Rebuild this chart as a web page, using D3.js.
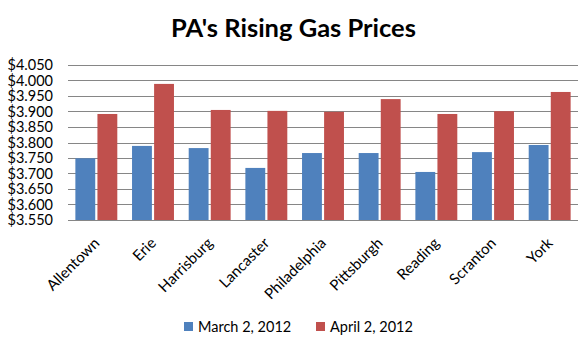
<!DOCTYPE html>
<html>
<head>
<meta charset="utf-8">
<script src="https://cdn.jsdelivr.net/npm/d3@7"></script>
<style>
  body { margin: 0; background: #fff; }
  svg { font-family: Lato, "Open Sans", sans-serif; }
</style>
</head>
<body>
<div id="chart-area"></div>
<script>
const cities = ["Allentown", "Erie", "Harrisburg", "Lancaster", "Philadelphia", "Pittsburgh", "Reading", "Scranton", "York"];
const seriesNames = ["March 2, 2012", "April 2, 2012"];
const march = [3.749, 3.789, 3.782, 3.718, 3.766, 3.766, 3.705, 3.769, 3.792];
const april = [3.892, 3.989, 3.905, 3.902, 3.899, 3.940, 3.892, 3.901, 3.963];
const yTicks = [3.55, 3.60, 3.65, 3.70, 3.75, 3.80, 3.85, 3.90, 3.95, 4.00, 4.05];
const colors = ["#4F81BD", "#C0504D"];

const config = {
    width: 587,
    height: 352,
    margin: { left: 68, right: 9, top: 65, bottom: 132 }
};
config.chartWidth = config.width - config.margin.left - config.margin.right;
config.chartHeight = config.height - config.margin.top - config.margin.bottom;

const rows = cities.map((c, i) => ({ city: c, values: [march[i], april[i]] }));

const svg = d3.select('#chart-area')
    .append('svg')
    .attr("width", config.width)
    .attr("height", config.height);

svg.append('text')
    .attr('x', config.width / 2)
    .attr('y', 37)
    .attr('text-anchor', 'middle')
    .attr('font-size', '25.5px')
    .attr('font-weight', 'bold')
    .style('fill', '#000')
    .text("PA's Rising Gas Prices");

const g = svg.append('g')
    .attr("transform", `translate(${config.margin.left}, ${config.margin.top})`);

const xScale = d3.scaleBand()
    .domain(cities)
    .range([0, config.chartWidth])
    .paddingInner(0.26)
    .paddingOuter(0.13);

const xSub = d3.scaleBand()
    .domain([0, 1])
    .range([0, xScale.bandwidth()])
    .paddingInner(0.1);

const yScale = d3.scaleLinear()
    .domain([3.55, 4.05])
    .range([config.chartHeight, 0]);

// gridlines
g.append('g')
    .selectAll('line')
    .data(yTicks)
    .join('line')
    .attr('x1', 0)
    .attr('x2', config.chartWidth)
    .attr('y1', d => Math.round(yScale(d)) + 0.5)
    .attr('y2', d => Math.round(yScale(d)) + 0.5)
    .attr('stroke', '#868686')
    .attr('stroke-width', 1);

// y axis labels
const yAxis = d3.axisLeft(yScale).tickValues(yTicks).tickFormat(d => "$" + d3.format(".3f")(d)).tickSize(0).tickPadding(15);
const yAxisGroup = g.append('g').call(yAxis);
yAxisGroup.select('.domain').remove();
yAxisGroup.selectAll('text')
    .attr('font-size', '14.5px')
    .attr('font-family', 'Lato, sans-serif')
    .style('fill', '#000');

// bars
const groups = g.selectAll('g.city')
    .data(rows)
    .join('g')
    .attr('class', 'city')
    .attr('transform', d => `translate(${xScale(d.city)}, 0)`);

groups.selectAll('rect')
    .data(d => d.values.map((v, i) => ({ v, i })))
    .join('rect')
    .attr('x', d => xSub(d.i))
    .attr('width', xSub.bandwidth())
    .attr('y', d => yScale(d.v))
    .attr('height', d => config.chartHeight - yScale(d.v))
    .attr('fill', d => colors[d.i]);

// x axis baseline
g.append('line')
    .attr('x1', 0)
    .attr('x2', config.chartWidth)
    .attr('y1', config.chartHeight + 0.5)
    .attr('y2', config.chartHeight + 0.5)
    .attr('stroke', '#868686');

// x labels
const xAxisGroup = g.append('g')
    .attr('transform', `translate(0, ${config.chartHeight})`)
    .call(d3.axisBottom(xScale).tickSize(0).tickPadding(0));
xAxisGroup.select('.domain').remove();
xAxisGroup.selectAll('text')
    .attr('font-size', '15px')
    .attr('font-family', 'Lato, sans-serif')
    .style('fill', '#000')
    .attr('text-anchor', 'end')
    .attr('dy', '0')
    .attr('transform', 'translate(4, 24) rotate(-45)');

// legend
const legend = svg.append('g');
const legendX = [184, 316];
seriesNames.forEach((name, i) => {
    legend.append('rect')
        .attr('x', legendX[i])
        .attr('y', 322)
        .attr('width', 9)
        .attr('height', 9)
        .attr('fill', colors[i]);
    legend.append('text')
        .attr('x', legendX[i] + 14)
        .attr('y', 332)
        .attr('font-size', '14.5px')
        .style('fill', '#000')
        .text(name);
});
</script>
</body>
</html>
